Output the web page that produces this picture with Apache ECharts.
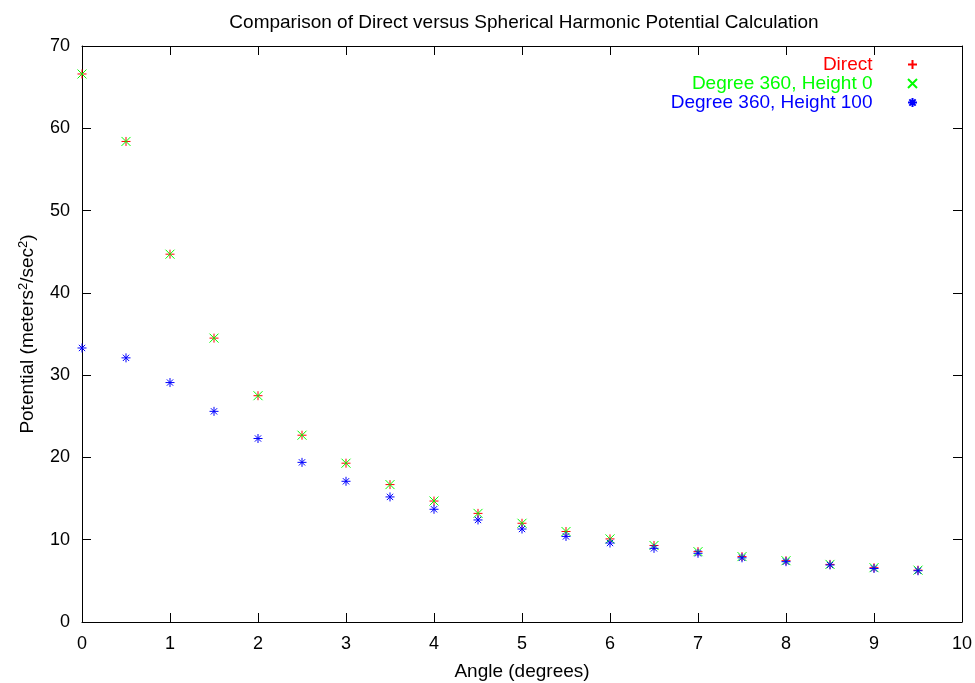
<!DOCTYPE html>
<html>
<head>
<meta charset="utf-8">
<script src="https://cdn.jsdelivr.net/npm/echarts@6/dist/echarts.min.js"></script>
<style>html,body{margin:0;padding:0;background:#fff}#c{width:975px;height:683px}</style>
</head>
<body>
<div id="c"></div>
<script>
const angles = [0, 0.5, 1, 1.5, 2, 2.5, 3, 3.5, 4, 4.5, 5, 5.5, 6, 6.5, 7, 7.5, 8, 8.5, 9, 9.5];
const direct = [66.6, 58.4, 44.7, 34.5, 27.5, 22.7, 19.3, 16.7, 14.7, 13.2, 12.0, 11.0, 10.1, 9.3, 8.55, 7.95, 7.45, 7.0, 6.6, 6.3];
const deg360h0 = [66.6, 58.4, 44.7, 34.5, 27.5, 22.7, 19.3, 16.7, 14.7, 13.2, 12.0, 11.0, 10.1, 9.3, 8.55, 7.95, 7.45, 7.0, 6.6, 6.3];
const deg360h100 = [33.3, 32.1, 29.1, 25.6, 22.3, 19.4, 17.1, 15.2, 13.7, 12.4, 11.3, 10.4, 9.6, 8.95, 8.35, 7.8, 7.33, 6.93, 6.5, 6.23];
const seriesNames = ['Direct', 'Degree 360, Height 0', 'Degree 360, Height 100'];
const seriesColors = ['#ff0000', '#00ff00', '#0000ff'];
const xTicks = {min: 0, max: 10, interval: 1};
const yTicks = {min: 0, max: 70, interval: 10};

const FONT = 'Liberation Sans, Arial, sans-serif';
const symbols = [
  'path://M5,0L5,10M0,5L10,5',
  'path://M0,0L10,10M10,0L0,10',
  'path://M5,0L5,10M0,5L10,5M1.5,1.5L8.5,8.5M8.5,1.5L1.5,8.5'
];
const allData = [direct, deg360h0, deg360h100];

const chart = echarts.init(document.getElementById('c'), null, {renderer: 'canvas'});
function axisCommon() {
  return {
    axisLine: {show: true, onZero: false, lineStyle: {color: '#000', width: 1}},
    axisTick: {show: true, inside: true, length: 9, lineStyle: {color: '#000', width: 1}},
    splitLine: {show: false}
  };
}
chart.setOption({
  animation: false,
  backgroundColor: '#fff',
  title: {
    text: 'Comparison of Direct versus Spherical Harmonic Potential Calculation',
    left: 519, top: 8, textAlign: 'center',
    textStyle: {fontFamily: FONT, fontSize: 19, fontWeight: 'normal', color: '#000'}
  },
  legend: {
    orient: 'vertical',
    right: 52, top: 50,
    align: 'right',
    itemWidth: 70, itemHeight: 9, itemGap: 0,
    textStyle: {fontFamily: FONT, fontSize: 19},
    data: seriesNames.map((n, i) => ({name: n, textStyle: {color: seriesColors[i]}}))
  },
  grid: {left: 82, right: 13, top: 46, bottom: 61, outerBoundsMode: 'none', containLabel: false},
  xAxis: [
    Object.assign({
      type: 'value', position: 'bottom', min: xTicks.min, max: xTicks.max, interval: xTicks.interval,
      name: 'Angle (degrees)', nameLocation: 'middle', nameGap: 40,
      nameTextStyle: {fontFamily: FONT, fontSize: 19, color: '#000'},
      axisLabel: {fontFamily: FONT, fontSize: 18, color: '#000', margin: 13}
    }, axisCommon()),
    Object.assign({
      type: 'value', position: 'top', min: xTicks.min, max: xTicks.max, interval: xTicks.interval,
      axisLabel: {show: false}
    }, axisCommon())
  ],
  yAxis: [
    Object.assign({
      type: 'value', position: 'left', min: yTicks.min, max: yTicks.max, interval: yTicks.interval,
      name: 'Potential (meters{sup|2}/sec{sup|2})', nameLocation: 'middle', nameGap: 43,
      nameTextStyle: {fontFamily: FONT, fontSize: 19, color: '#000',
        rich: {sup: {fontFamily: FONT, fontSize: 13, color: '#000', verticalAlign: 'top', padding: [0, 0, 9, 0]}}},
      axisLabel: {fontFamily: FONT, fontSize: 18, color: '#000', margin: 12}
    }, axisCommon()),
    Object.assign({
      type: 'value', position: 'right', min: yTicks.min, max: yTicks.max, interval: yTicks.interval,
      axisLabel: {show: false}
    }, axisCommon())
  ],
  series: seriesNames.map((n, i) => ({
    name: n,
    type: 'scatter',
    xAxisIndex: 0, yAxisIndex: 0,
    symbol: symbols[i],
    symbolSize: 9,
    symbolKeepAspect: true,
    itemStyle: {color: seriesColors[i], borderColor: seriesColors[i], borderWidth: 1, opacity: 1},
    emphasis: {disabled: true},
    data: angles.map((a, k) => [a, allData[i][k]])
  }))
});
</script>
</body>
</html>
